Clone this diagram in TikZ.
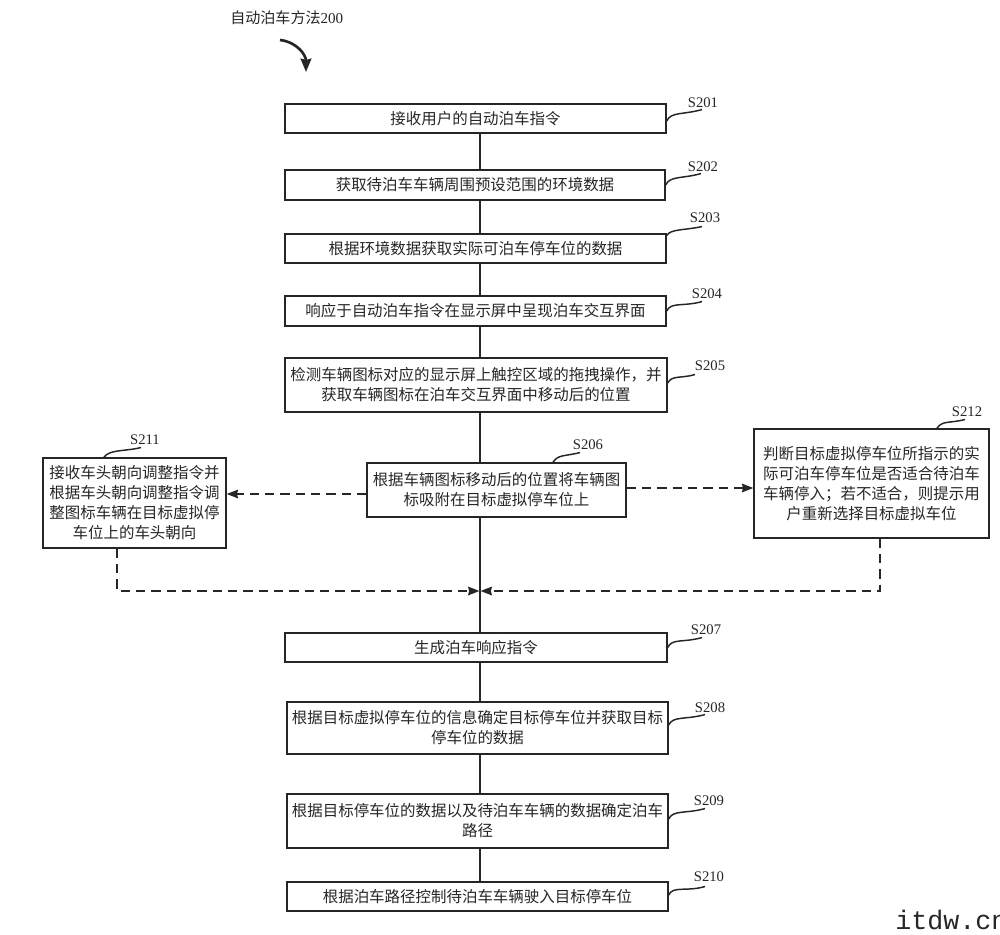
\documentclass[tikz,border=0pt]{standalone}
\usepackage{fontspec}
\setmainfont{Liberation Serif}
\newfontfamily\cjk{Noto Sans CJK SC}
\newfontfamily\wmfont{Liberation Mono}
\usetikzlibrary{arrows.meta,calc}
\definecolor{ink}{HTML}{262626}
\begin{document}
\begin{tikzpicture}[x=0.75pt,y=-0.75pt,
  box/.style={draw=ink, line width=1.1pt, inner sep=0pt, align=center, text=ink,
    font=\cjk\fontsize{11.6}{15}\selectfont},
  lab/.style={inner sep=1pt, text=ink, font=\fontsize{11}{12}\selectfont},
  lead/.style={draw=ink, line width=1.1pt},
  link/.style={draw=ink, line width=1pt},
  dsh/.style={draw=ink, line width=1pt, dash pattern=on 7pt off 4.5pt},
  tip/.style={-{Stealth[length=8.5pt,width=6.5pt,inset=0.8pt]}}]
\useasboundingbox (0,0) rectangle (1000,935);
\fill[white] (0,0) rectangle (1000,935);

% title
\node[anchor=base west, inner sep=0pt, text=ink, font=\fontsize{11.3}{13}\selectfont] (title) at (230,23) {{\cjk 自动泊车方法}200};
\coordinate (t0) at (280,40);
\coordinate (t1) at (306,72);
\draw[draw=ink, line width=2pt, -{Stealth[length=10pt,width=8pt,inset=1pt]}] (t0) .. controls (297,42) and (306,55) .. (t1);

% boxes
\node[box, minimum width=285.75pt, minimum height=21.75pt] (b201) at (475.5,118.5) {接收用户的自动泊车指令};
\node[box, minimum width=285pt, minimum height=22.5pt] (b202) at (475,185) {获取待泊车车辆周围预设范围的环境数据};
\node[box, minimum width=285.75pt, minimum height=21.75pt] (b203) at (475.5,248.5) {根据环境数据获取实际可泊车停车位的数据};
\node[box, minimum width=285.75pt, minimum height=22.5pt] (b204) at (475.5,311) {响应于自动泊车指令在显示屏中呈现泊车交互界面};
\node[box, minimum width=286.5pt, minimum height=40.5pt] (b205) at (476,385) {检测车辆图标对应的显示屏上触控区域的拖拽操作，并\\获取车辆图标在泊车交互界面中移动后的位置};
\node[box, minimum width=194.25pt, minimum height=40.5pt] (b206) at (496.5,490) {根据车辆图标移动后的位置将车辆图\\标吸附在目标虚拟停车位上};
\node[box, minimum width=137.25pt, minimum height=67.5pt] (b211) at (134.5,503) {接收车头朝向调整指令并\\根据车头朝向调整指令调\\整图标车辆在目标虚拟停\\车位上的车头朝向};
\node[box, minimum width=176.25pt, minimum height=81.75pt] (b212) at (871.5,483.5) {判断目标虚拟停车位所指示的实\\际可泊车停车位是否适合待泊车\\车辆停入；若不适合，则提示用\\户重新选择目标虚拟车位};
\node[box, minimum width=286.5pt, minimum height=21.75pt] (b207) at (476,647.5) {生成泊车响应指令};
\node[box, minimum width=285.75pt, minimum height=39pt] (b208) at (477.5,728) {根据目标虚拟停车位的信息确定目标停车位并获取目标\\停车位的数据};
\node[box, minimum width=285.75pt, minimum height=40.5pt] (b209) at (477.5,821) {根据目标停车位的数据以及待泊车车辆的数据确定泊车\\路径};
\node[box, minimum width=285.75pt, minimum height=21.75pt] (b210) at (477.5,896.5) {根据泊车路径控制待泊车车辆驶入目标停车位};

% step labels
\node[lab] (l201) at (703,103) {S201};
\node[lab] (l202) at (703,167) {S202};
\node[lab] (l203) at (705,218) {S203};
\node[lab] (l204) at (707,294) {S204};
\node[lab] (l205) at (710,366) {S205};
\node[lab] (l206) at (588,445) {S206};
\node[lab] (l211) at (145,440) {S211};
\node[lab] (l212) at (967,412) {S212};
\node[lab] (l207) at (706,630) {S207};
\node[lab] (l208) at (710,708) {S208};
\node[lab] (l209) at (709,801) {S209};
\node[lab] (l210) at (709,877) {S210};

% leaders
\draw[lead] ($(b201.east)+(0,2.5)$) .. controls +(3pt,7pt) and +(-14pt,-4pt) .. ($(l201.south)+(-1,0)$);
\draw[lead] ($(b202.east)+(0,0)$) .. controls +(3pt,7pt) and +(-14pt,-4pt) .. ($(l202.south)+(-2,0)$);
\draw[lead] ($(b203.east)+(0,-13)$) .. controls +(3pt,5pt) and +(-14pt,-3pt) .. ($(l203.south)+(-3,2)$);
\draw[lead] ($(b204.east)+(0,0)$) .. controls +(3pt,7pt) and +(-14pt,-4pt) .. ($(l204.south)+(-5,1)$);
\draw[lead] ($(b205.east)+(0,-2)$) .. controls +(3pt,6pt) and +(-10pt,-3pt) .. ($(l205.south)+(-15,2)$);
\draw[lead] ($(b207.east)+(0,0)$) .. controls +(3pt,7pt) and +(-14pt,-4pt) .. ($(l207.south)+(-4,1)$);
\draw[lead] ($(b208.east)+(0,-3)$) .. controls +(3pt,7pt) and +(-14pt,-4pt) .. ($(l208.south)+(-5,0)$);
\draw[lead] ($(b209.east)+(0,-2)$) .. controls +(3pt,7pt) and +(-14pt,-4pt) .. ($(l209.south)+(-4,1)$);
\draw[lead] ($(b210.east)+(0,-1.5)$) .. controls +(3pt,7pt) and +(-14pt,-4pt) .. ($(l210.south)+(-4,3)$);
\draw[lead] ($(l206.south |- b206.north)+(-35,0)$) .. controls +(4pt,6pt) and +(-12pt,-3pt) .. ($(l206.south)+(-8,1)$);
\draw[lead] ($(l211.south |- b211.north)+(-41,0)$) .. controls +(4pt,6pt) and +(-12pt,-3pt) .. ($(l211.south)+(-4,1)$);
\draw[lead] ($(l212.south |- b212.north)+(-30,0)$) .. controls +(4pt,6pt) and +(-12pt,-3pt) .. ($(l212.south)+(-2,1)$);

% main line
\coordinate (m) at (480,0);
\coordinate (j) at (480,591);
\draw[link] (b201.south -| m) -- (b202.north -| m);
\draw[link] (b202.south -| m) -- (b203.north -| m);
\draw[link] (b203.south -| m) -- (b204.north -| m);
\draw[link] (b204.south -| m) -- (b205.north -| m);
\draw[link] (b205.south -| m) -- (b206.north -| m);
\draw[link] (b206.south -| m) -- (b207.north -| m);
\draw[link] (b207.south -| m) -- (b208.north -| m);
\draw[link] (b208.south -| m) -- (b209.north -| m);
\draw[link] (b209.south -| m) -- (b210.north -| m);

% dashed branches
\coordinate (yl) at (0,494);
\coordinate (yr) at (0,488);
\coordinate (c211) at (117,591);
\coordinate (c212) at (880,591);
\draw[dsh, tip] (b206.west |- yl) -- (b211.east |- yl);
\draw[dsh, tip] (b206.east |- yr) -- (b212.west |- yr);
\draw[dsh, tip] (b211.south -| c211) -- (c211) -- ($(j)+(-0.6,0)$);
\draw[dsh, tip] (b212.south -| c212) -- (c212) -- ($(j)+(0.6,0)$);

% watermark
\begin{scope}
\clip (0,0) rectangle (1000,935);
\node[anchor=base west, inner sep=0pt, text=ink, font=\wmfont\fontsize{20}{21}\selectfont] (wm) at (895,929) {itdw.cn};
\end{scope}
\end{tikzpicture}
\end{document}
